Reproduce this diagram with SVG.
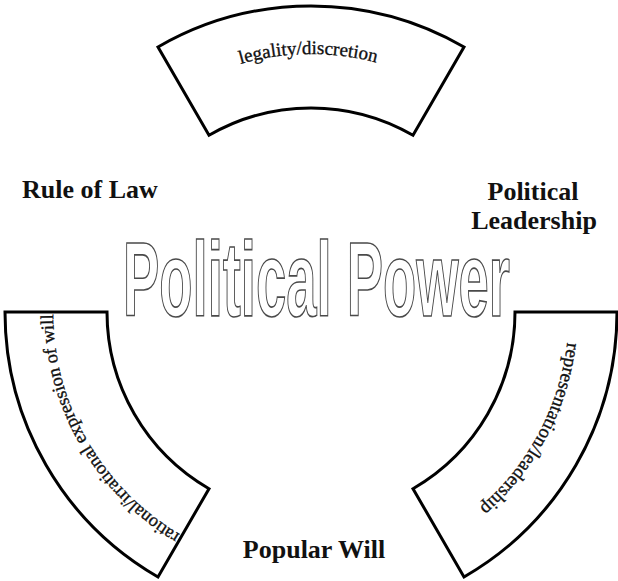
<svg xmlns="http://www.w3.org/2000/svg" width="618" height="581" viewBox="0 0 618 581">
  <style>
    .sector { fill: #ffffff; stroke: #000000; stroke-width: 3; stroke-linejoin: miter; }
    .arc-text { font-family: "Liberation Serif", "Times New Roman", serif; font-size: 19px; fill: #111111; stroke: #111111; stroke-width: 0.35; }
    .label { font-family: "Liberation Serif", "Times New Roman", serif; font-size: 26px; font-weight: bold; fill: #111111; }
    .title { font-family: "Liberation Sans", Arial, sans-serif; font-size: 106px; font-weight: bold; fill: #ffffff; stroke: #4a4a4a; stroke-width: 1.7; }
  </style>
  <defs>
    <!-- text baselines: circle r=258 around (311,312), drawn clockwise so glyph tops face outward -->
    <path id="arcTop" d="M113.4,146.2 A258,258 0 0 1 508.6,146.2"/>
    <path id="arcLeft" d="M266.2,566.1 A258,258 0 0 1 68.6,223.8"/>
    <path id="arcRight" d="M550.2,215.4 A258,258 0 0 1 364.6,564.4"/>
  </defs>
  <rect width="618" height="581" fill="#ffffff"/>

  <!-- ring sectors: outer r=306, inner r=204, centre (311,312) -->
  <g id="node-legality">
    <path class="sector" d="M158,47 A306,306 0 0 1 464,47 L413,135.3 A204,204 0 0 0 209,135.3 Z"/>
    <text class="arc-text" text-anchor="middle"><textPath href="#arcTop" startOffset="49.4%">legality/discretion</textPath></text>
  </g>

  <g id="node-representation">
    <path class="sector" d="M515,312 L617,312 A306,306 0 0 1 464,577 L413,488.7 A204,204 0 0 0 515,312 Z"/>
    <text class="arc-text" text-anchor="middle"><textPath href="#arcRight" startOffset="50%">representation/leadership</textPath></text>
  </g>

  <g id="node-expression">
    <path class="sector" d="M158,577 A306,306 0 0 1 5,312 L107,312 A204,204 0 0 0 209,488.7 Z"/>
    <text class="arc-text" text-anchor="middle" style="font-size:18.4px"><textPath href="#arcLeft" startOffset="50%">rational/irrational expression of will</textPath></text>
  </g>

  <g id="node-rule-of-law">
    <text class="label" x="22" y="198">Rule of Law</text>
  </g>

  <g id="node-political-leadership">
    <text class="label" text-anchor="middle" x="533" y="200">Political</text>
    <text class="label" text-anchor="middle" x="534" y="229">Leadership</text>
  </g>

  <g id="node-popular-will">
    <text class="label" text-anchor="middle" x="314" y="558">Popular Will</text>
  </g>

  <g id="node-political-power">
    <text class="title" x="123" y="316" textLength="387" lengthAdjust="spacingAndGlyphs">Political Power</text>
  </g>

  <g id="connectors"/>
</svg>
